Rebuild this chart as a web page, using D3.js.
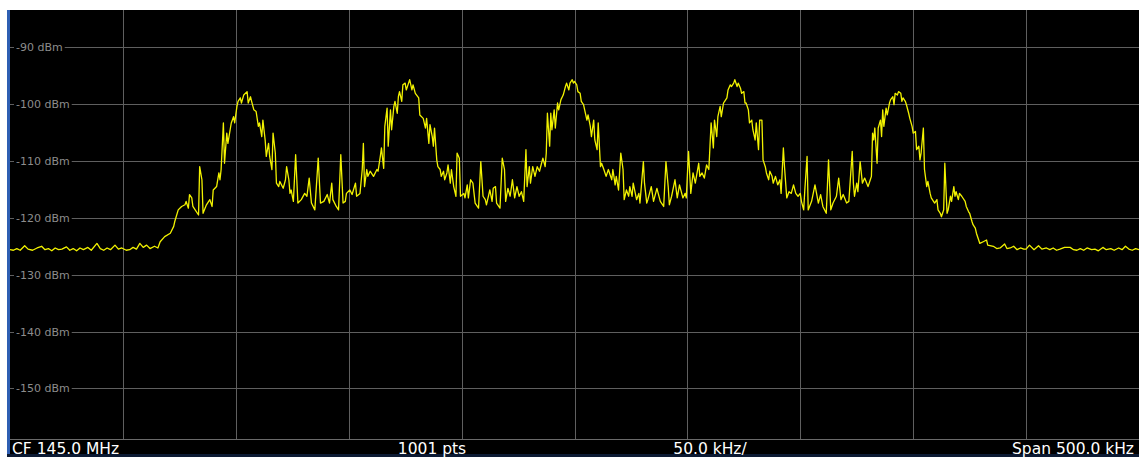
<!DOCTYPE html>
<html>
<head>
<meta charset="utf-8">
<script src="https://cdn.jsdelivr.net/npm/d3@7/dist/d3.min.js"></script>
<style>
  body { margin: 0; background: #fff; }
  svg { display: block; font-family: "DejaVu Sans", Verdana, sans-serif; }
</style>
</head>
<body>
<svg id="chart"></svg>
<script>
// analyzer settings shown in the footer
const centerMHz = 145.0;
const spanKHz = 500;
const sweepPoints = 1001;

// grid
const levelTicks = [-90, -100, -110, -120, -130, -140, -150];
const freqTicks = [-200, -150, -100, -50, 0, 50, 100, 150, 200];   // kHz from CF

// trace: sweep point index and level in dBm
const tracePoint = [
  0,3,6,9,13,16,20,24,28,31,34,37,40,43,46,50,53,56,59,62,65,69,72,77,80,83,86,89,93,96,99,103,106,109,112,115,118,121,124,128,131,
  133,137,142,145,146,149,152,155,156,158,159,161,162,164,167,168,170,171,174,177,179,180,183,185,186,187,189,190,192,193,195,196,198,199,
  201,202,204,205,207,210,211,213,214,216,218,220,221,223,224,226,227,229,230,232,233,235,236,238,239,242,244,245,247,248,249,251,253,255,
  258,261,263,265,267,270,273,275,278,281,283,285,286,289,291,293,295,297,298,301,303,306,307,310,312,313,314,316,317,319,322,325,326,328,329,
  331,332,334,335,337,338,340,341,343,344,345,347,348,350,351,353,354,356,357,359,362,363,366,368,369,371,372,374,375,376,378,379,381,382,384,
  385,387,388,390,391,393,395,396,398,399,402,403,405,406,
  408,410,412,415,417,419,421,422,425,427,428,430,431,434,436,438,439,441,443,445,447,449,451,453,455,457,458,460,461,463,465,467,469,472,474,
  475,476,478,479,480,482,483,485,486,488,490,492,493,495,496,498,499,500,502,503,505,506,508,509,511,512,514,515,517,518,520,521,523,524,526,
  528,530,531,533,534,536,537,539,541,543,544,546,548,549,551,552,555,557,
  558,561,562,564,565,568,570,573,576,579,581,583,584,586,589,591,593,596,598,599,601,603,605,607,610,611,613,615,617,619,620,621,623,624,626,
  627,629,630,632,633,635,636,638,639,641,642,644,645,647,648,650,651,652,654,655,657,658,660,661,663,664,666,667,669,670,672,673,675,676,678,
  680,682,683,685,686,688,690,692,694,696,698,700,701,703,704,706,707,
  710,713,716,718,720,723,725,727,729,732,734,736,738,741,743,746,747,748,750,751,753,755,757,760,762,763,764,765,766,768,769,771,772,773,774,
  776,777,779,780,782,783,784,786,787,789,790,791,793,794,796,797,799,800,802,803,805,806,807,809,810,812,813,815,816,818,819,821,822,824,825,
  827,828,830,831,833,834,836,837,838,840,841,843,846,847,849,850,852,853,855,856,858,859,
  862,865,866,871,874,877,881,883,886,889,892,895,898,900,903,907,911,914,918,921,924,927,930,934,939,942,945,948,951,954,958,961,964,968,971,
  975,978,982,985,988,991,994,997,1000
];
const traceLevel = [
  -125.6,-125.7,-125.4,-125.7,-124.9,-125.5,-125.7,-125.3,-125.0,-125.6,-125.4,-125.8,-125.3,-125.6,-125.5,-125.1,-125.7,-125.4,-125.8,-125.3,
  -125.6,-125.2,-125.7,-124.5,-125.4,-125.7,-125.3,-125.6,-124.8,-125.5,-125.3,-125.7,-125.6,-125.2,-125.5,-124.5,-125.2,-124.8,-125.4,-125.0,-125.3,
  -124.2,-123.3,-122.7,-121.5,-120.6,-118.6,-118.0,-117.7,-117.1,-118.3,-115.9,-116.5,-118.0,-118.6,-119.5,-111.0,-113.3,-119.2,-117.7,-116.8,
  -118.0,-115.1,-114.5,-112.1,-113.3,-111.5,-103.3,-110.4,-105.1,-106.9,-104.5,-103.3,-102.2,-103.3,
  -100.4,-99.5,-98.9,-99.8,-98.4,-97.8,-99.8,-98.7,-99.5,-101.0,-101.3,-103.9,-103.3,-105.7,-102.8,-106.3,-109.2,-106.9,-109.2,-111.5,-105.1,
  -108.6,-113.9,-114.5,-113.6,-114.8,-113.3,-111.0,-113.3,-115.7,-115.1,-117.1,-108.9,-117.4,
  -116.8,-115.7,-116.2,-113.0,-117.4,-118.6,-109.5,-117.4,-117.1,-115.9,-117.4,-113.9,-116.8,-118.0,-118.6,-108.9,-117.4,-117.1,-115.7,-115.1,
  -115.9,-113.9,-116.2,-115.7,-111.5,-106.9,-114.5,-111.5,-112.7,-111.8,-112.7,-111.5,-111.8,-109.2,-107.7,
  -111.3,-103.9,-100.7,-107.4,-101.0,-104.5,-100.4,-99.5,-101.6,-98.7,-97.8,-99.5,-96.6,-96.3,-97.5,-96.3,-95.7,-97.5,-96.6,-98.1,-98.9,-101.9,
  -102.5,-104.2,-102.5,-106.9,-103.6,-105.7,-107.4,-104.2,-109.8,-111.0,-111.5,-112.7,-111.8,
  -113.3,-112.1,-110.7,-113.9,-111.5,-114.5,-116.2,-108.6,-109.5,-116.2,-115.7,-116.5,-114.2,-116.5,
  -113.3,-113.9,-117.4,-118.3,-110.1,-116.2,-116.8,-117.7,-115.1,-117.1,-114.8,-114.5,-117.4,-118.3,-109.5,-111.5,-117.1,-114.8,-116.2,-113.3,
  -116.5,-114.5,-116.2,-115.4,-117.1,-108.0,-114.5,-111.0,-113.9,-111.0,-112.7,-111.0,-111.8,-109.5,-111.0,
  -108.6,-101.6,-107.4,-101.6,-104.5,-101.0,-104.2,-99.8,-101.0,-99.2,-98.4,-96.9,-96.3,-97.5,-96.3,-95.7,-96.3,-96.0,-96.6,-97.8,-98.1,-99.5,
  -100.1,-101.0,-102.8,-101.9,-103.9,-105.7,-102.8,-106.3,-108.0,-103.3,-111.0,-110.4,-111.5,
  -112.7,-111.5,-112.1,-113.3,-111.5,-114.2,-112.7,-115.1,-108.6,-111.5,-116.8,-115.1,-116.2,-114.5,-116.2,-113.9,-116.8,-115.7,
  -117.4,-110.1,-113.9,-117.4,-116.8,-114.5,-117.1,-114.8,-117.1,-118.0,-110.1,-114.5,-117.7,-116.2,-113.3,-116.5,-114.2,-116.5,-115.7,-116.5,
  -108.3,-115.7,-112.1,-113.9,-110.4,-112.7,-112.1,-113.0,-110.7,-111.5,-107.4,-103.3,-107.7,-102.8,-105.7,
  -102.2,-100.4,-102.2,-99.8,-99.5,-98.9,-97.5,-96.6,-96.9,-96.3,-95.7,-96.9,-96.3,-97.2,-98.1,-97.8,-99.8,-99.8,-101.0,-103.3,-102.8,-104.5,
  -106.3,-103.3,-108.0,-102.8,-102.8,-109.8,-111.0,-112.1,-113.3,-111.8,-112.7,-113.9,-112.7,
  -114.2,-113.3,-115.7,-107.7,-111.0,-116.5,-115.4,-115.7,-114.2,-115.7,-116.2,-115.7,-117.1,-118.6,-115.1,-109.2,-118.6,
  -117.1,-114.2,-117.4,-115.9,-118.0,-119.2,-109.8,-118.6,-117.4,-116.2,-113.0,-116.8,-115.9,-117.4,-117.1,-108.3,-113.9,-116.2,-113.9,-115.4,
  -110.1,-113.9,-113.0,-114.5,-113.3,-112.7,-105.1,-106.3,-104.2,-110.4,-104.2,-102.8,-105.7,-101.0,-103.9,
  -100.7,-101.9,-99.8,-99.2,-98.7,-100.1,-98.1,-98.4,-97.8,-98.1,-99.5,-98.9,-99.5,-100.1,-101.6,-102.5,-103.9,-105.1,-104.8,-108.0,-107.4,
  -109.8,-108.6,-104.2,-111.5,-114.5,-113.6,-115.7,-116.5,-117.1,-117.4,-116.8,-118.6,-119.2,-119.8,
  -118.6,-110.4,-119.2,-118.6,-116.2,-117.1,-114.5,-116.2,-115.4,-116.8,-115.7,-116.2,-117.1,-118.0,-118.9,-119.2,-120.6,-121.2,-121.8,-122.7,
  -123.9,-124.5,
  -124.2,-123.9,-124.8,-125.0,-125.4,-125.3,-124.6,-125.4,-125.3,-125.0,-125.6,-125.3,-125.5,-125.5,-124.8,-125.6,-124.9,-125.5,-125.3,-125.6,
  -125.3,-125.7,-125.5,-125.2,-125.2,-125.6,-125.7,-125.4,-125.7,-125.3,-125.6,-125.5,-125.8,-125.2,-125.6,
  -125.4,-125.7,-125.3,-125.6,-125.0,-125.5,-125.7,-125.4,-125.6
];

const W = 1139, H = 457;
const plot = { left: 10, right: 1139, top: 10, bottom: 439 };

const svg = d3.select("#chart").attr("width", W).attr("height", H);

// panel
svg.append("rect").attr("x", 0).attr("y", 0).attr("width", W).attr("height", H).attr("fill", "#fff");
svg.append("rect").attr("x", 7).attr("y", plot.top).attr("width", W - 7).attr("height", H - plot.top).attr("fill", "#000");
svg.append("rect").attr("x", 7).attr("y", plot.top).attr("width", 3).attr("height", H - plot.top).attr("fill", "#2f5fb3");

const x = d3.scaleLinear().domain([-spanKHz / 2, spanKHz / 2]).range([plot.left, plot.right]);
const y = d3.scaleLinear().domain([-150, -90]).range([388.4, 47.3]);
const stepKHz = spanKHz / (sweepPoints - 1);

// vertical grid
const xGrid = svg.append("g")
  .attr("transform", `translate(0,${plot.bottom})`)
  .call(d3.axisBottom(x).tickValues(freqTicks).tickSize(-(plot.bottom - plot.top)).tickFormat(""));
xGrid.select(".domain").remove();
xGrid.selectAll("line").attr("stroke", "#5f5f5f").attr("shape-rendering", "crispEdges");

// horizontal grid with level labels on the left
const yGrid = svg.append("g")
  .attr("transform", `translate(${plot.left},0)`)
  .call(d3.axisRight(y).tickValues(levelTicks).tickSize(plot.right - plot.left)
    .tickFormat(d => d + " dBm"));
yGrid.select(".domain").remove();
yGrid.selectAll("line").attr("stroke", "#5f5f5f").attr("shape-rendering", "crispEdges");
yGrid.selectAll("text")
  .attr("x", 6).attr("dy", "0.32em")
  .attr("text-anchor", "start")
  .attr("fill", "#8c8c8c")
  .attr("font-size", 11)
  .attr("font-family", "DejaVu Sans, Verdana, sans-serif");
yGrid.selectAll(".tick").each(function () {
  const t = d3.select(this).select("text");
  const w = t.node().getComputedTextLength();
  d3.select(this).insert("rect", "text")
    .attr("x", 4).attr("y", -6).attr("width", w + 4).attr("height", 12)
    .attr("fill", "#000");
});

// trace
const trace = tracePoint.map((p, i) => ({ f: p * stepKHz - spanKHz / 2, level: traceLevel[i] }));
svg.append("defs").append("clipPath").attr("id", "plotClip")
  .append("rect").attr("x", plot.left).attr("y", plot.top)
  .attr("width", plot.right - plot.left).attr("height", plot.bottom - plot.top);
svg.append("path")
  .datum(trace)
  .attr("clip-path", "url(#plotClip)")
  .attr("fill", "none")
  .attr("stroke", "#f2f200")
  .attr("stroke-width", 1.3)
  .attr("stroke-linejoin", "round")
  .attr("d", d3.line().x(d => x(d.f)).y(d => y(d.level)));

// footer
svg.append("line")
  .attr("x1", plot.left).attr("x2", plot.right).attr("y1", plot.bottom + 0.5).attr("y2", plot.bottom + 0.5)
  .attr("stroke", "#6a6a6a");
svg.append("rect").attr("x", 7).attr("y", H - 3).attr("width", W - 7).attr("height", 3).attr("fill", "#0c1a33");

const footer = svg.append("g").attr("fill", "#fff").attr("font-size", 15.5);
footer.append("text").attr("x", 12).attr("y", 454).text(`CF ${centerMHz.toFixed(1)} MHz`);
footer.append("text").attr("x", 432).attr("y", 454).attr("text-anchor", "middle").text(`${sweepPoints} pts`);
footer.append("text").attr("x", 710).attr("y", 454).attr("text-anchor", "middle").text(`${(spanKHz / 10).toFixed(1)} kHz/`);
footer.append("text").attr("x", 1134).attr("y", 454).attr("text-anchor", "end").text(`Span ${spanKHz.toFixed(1)} kHz`);
</script>
</body>
</html>
